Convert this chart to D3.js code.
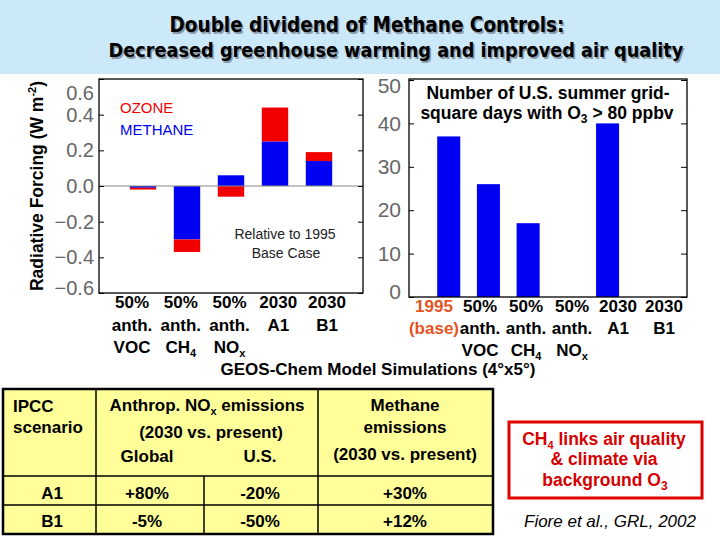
<!DOCTYPE html>
<html lang="en">
<head>
<meta charset="UTF-8">
<title>Double dividend of Methane Controls</title>
<script src="https://d3js.org/d3.v7.min.js"></script>
<style>
  html, body { margin: 0; padding: 0; background: #fff; }
  svg { display: block; font-family: 'Liberation Sans', Arial, sans-serif; }
</style>
</head>
<body>
<div id="chart"></div>
<script>
// ---- data ----
var rfCats = ["50% anth. VOC", "50% anth. CH4", "50% anth. NOx", "2030 A1", "2030 B1"];
var methaneRF = [-0.01, -0.30, 0.06, 0.25, 0.14];
var ozoneRF = [-0.01, -0.07, -0.06, 0.19, 0.05];
var rfTicks = [-0.6, -0.4, -0.2, 0.0, 0.2, 0.4, 0.6];
var rfLine1 = ["50%", "50%", "50%", "2030", "2030"];
var rfLine2 = ["anth.", "anth.", "anth.", "A1", "B1"];
var rfLine3 = ["VOC", "CH_{4}", "NO_{x}", "", ""];

var o3Cats = ["1995 (base)", "50% anth. VOC", "50% anth. CH4", "50% anth. NOx", "2030 A1", "2030 B1"];
var o3Days = [37, 26, 17, 0, 40, 0];
var o3Ticks = [0, 10, 20, 30, 40, 50];
var o3Line1 = ["1995", "50%", "50%", "50%", "2030", "2030"];
var o3Line2 = ["(base)", "anth.", "anth.", "anth.", "A1", "B1"];
var o3Line3 = ["", "VOC", "CH_{4}", "NO_{x}", "", ""];

var scenarios = ["A1", "B1"];
var noxGlobal = ["+80%", "-5%"];
var noxUS = ["-20%", "-50%"];
var ch4Emis = ["+30%", "+12%"];

var RED = "#f20000", BLUE = "#0000f2";

var svg = d3.select("#chart").append("svg")
  .attr("width", 720).attr("height", 540);

// text with _{sub} and ^{sup} pieces
function rich(t, s, small) {
  var cur = 0, last = 0, m, re = /([_^])\{([^}]*)\}/g;
  function put(str, off, size) {
    if (!str) return;
    var ts = t.append("tspan").text(str).attr("dy", off - cur);
    if (size) ts.attr("font-size", size);
    cur = off;
  }
  while ((m = re.exec(s))) {
    put(s.slice(last, m.index), 0);
    put(m[2], m[1] === "_" ? 4 : -7, small);
    last = re.lastIndex;
  }
  put(s.slice(last), 0);
  return t;
}

// title band
svg.append("rect").attr("x", 0).attr("y", 0).attr("width", 720).attr("height", 74).attr("fill", "#cce9fa");
function titleLine(str, cx, y, target) {
  [["#8a9aa6", 1.5], ["#000", 0]].forEach(function(p) {
    var t = svg.append("text").attr("x", cx + p[1]).attr("y", y + p[1])
      .attr("text-anchor", "middle").attr("font-weight", "bold")
      .style("font-family", "'DejaVu Sans Condensed', 'DejaVu Sans', sans-serif")
      .style("font-stretch", "condensed")
      .attr("font-size", 20).attr("fill", p[0]).text(str);
    var len = t.node().getComputedTextLength();
    t.attr("font-size", 20 * target / len);
  });
}
titleLine("Double dividend of Methane Controls:", 367, 32, 395);
titleLine("Decreased greenhouse warming and improved air quality", 396, 57, 575);

// ---------- left panel: radiative forcing ----------
var L = { l: 99, r: 363, t: 79, b: 293 };
var xL = d3.scaleLinear().domain([0, rfCats.length + 1]).range([L.l, L.r]);
var yL = d3.scaleLinear().domain([-0.6, 0.6]).range([L.b, L.t]);
var bwL = (xL(1) - xL(0)) * 0.6;

var rfRows = rfCats.map(function(c, i) { return { cat: c, i: i, methane: methaneRF[i], ozone: ozoneRF[i] }; });
var stack = d3.stack().keys(["methane", "ozone"]).offset(d3.stackOffsetDiverging);
var layers = stack(rfRows);
var colors = { methane: BLUE, ozone: RED };

svg.append("g").selectAll("g").data(layers).join("g")
  .attr("fill", function(d) { return colors[d.key]; })
  .selectAll("rect").data(function(d) { return d; }).join("rect")
  .attr("x", function(d) { return xL(d.data.i + 1) - bwL / 2; })
  .attr("width", bwL)
  .attr("y", function(d) { return yL(Math.max(d[0], d[1])); })
  .attr("height", function(d) { return Math.abs(yL(d[0]) - yL(d[1])); });

svg.append("line").attr("x1", L.l).attr("x2", L.r).attr("y1", yL(0)).attr("y2", yL(0))
  .attr("stroke", "#888").attr("stroke-width", 1);

svg.append("g").attr("transform", "translate(" + L.l + ",0)")
  .call(d3.axisLeft(yL).tickValues(rfTicks).tickFormat(d3.format(".1f")).tickSizeInner(-5).tickSizeOuter(0).tickPadding(5))
  .call(function(g) {
    g.select(".domain").remove();
    g.selectAll("text").attr("font-size", 20).attr("fill", "#666").attr("font-family", "'Liberation Sans', Arial, sans-serif");
    g.selectAll(".tick").filter(function(d) { return d === 0.6; }).select("text").attr("dy", "1.0em");
    g.selectAll(".tick").filter(function(d) { return d === -0.6; }).select("text").attr("dy", "0.05em");
  });
svg.append("g").attr("transform", "translate(" + L.r + ",0)")
  .call(d3.axisRight(yL).tickValues(rfTicks).tickFormat("").tickSizeInner(-5).tickSizeOuter(0))
  .call(function(g) { g.select(".domain").remove(); });

svg.append("rect").attr("x", L.l).attr("y", L.t).attr("width", L.r - L.l).attr("height", L.b - L.t)
  .attr("fill", "none").attr("stroke", "#000").attr("stroke-width", 1.3);

svg.append("text").attr("x", 120).attr("y", 113).attr("font-size", 15).attr("fill", RED).text("OZONE");
svg.append("text").attr("x", 120).attr("y", 135).attr("font-size", 15).attr("fill", BLUE).text("METHANE");
svg.append("text").attr("x", 285).attr("y", 239).attr("text-anchor", "middle").attr("font-size", 14).attr("fill", "#222").text("Relative to 1995");
svg.append("text").attr("x", 286).attr("y", 258).attr("text-anchor", "middle").attr("font-size", 14).attr("fill", "#222").text("Base Case");

var yTitle = svg.append("text").attr("transform", "translate(43,186) rotate(-90)")
  .attr("text-anchor", "middle").attr("font-weight", "bold").attr("font-size", 17.5).attr("fill", "#000");
rich(yTitle, "Radiative Forcing (W m^{-2})", 11);

// category labels under left panel
var lblL = d3.scalePoint().domain(rfCats).range([132, 327]);
[[rfLine1, 308], [rfLine2, 331], [rfLine3, 353]].forEach(function(row) {
  svg.append("g").selectAll("text").data(rfCats).join("text")
    .attr("x", function(d) { return lblL(d); }).attr("y", row[1])
    .attr("text-anchor", "middle").attr("font-weight", "bold").attr("font-size", 17)
    .each(function(d, i) { rich(d3.select(this), row[0][i], 11); });
});

// ---------- right panel: high-ozone days ----------
var R = { l: 409, r: 687, t: 79, b: 297 };
var xR = d3.scaleLinear().domain([0, o3Cats.length + 1]).range([R.l, R.r]);
var yR = d3.scaleLinear().domain([0, 50]).range([R.b, R.t + 1]);
var bwR = (xR(1) - xR(0)) * 0.58;

svg.append("g").attr("fill", BLUE).selectAll("rect").data(o3Days).join("rect")
  .attr("x", function(d, i) { return xR(i + 1) - bwR / 2; })
  .attr("width", bwR)
  .attr("y", function(d) { return yR(d); })
  .attr("height", function(d) { return yR(0) - yR(d); });

svg.append("g").attr("transform", "translate(" + R.l + ",0)")
  .call(d3.axisLeft(yR).tickValues(o3Ticks).tickSizeInner(-5).tickSizeOuter(0).tickPadding(8))
  .call(function(g) {
    g.select(".domain").remove();
    g.selectAll("text").attr("font-size", 21).attr("fill", "#666").attr("font-family", "'Liberation Sans', Arial, sans-serif");
    g.selectAll(".tick").filter(function(d) { return d === 50; }).select("text").attr("dy", "0.6em");
    g.selectAll(".tick").filter(function(d) { return d === 0; }).select("text").attr("dy", "0.05em");
  });
svg.append("g").attr("transform", "translate(" + R.r + ",0)")
  .call(d3.axisRight(yR).tickValues(o3Ticks).tickFormat("").tickSizeInner(-6).tickSizeOuter(0))
  .call(function(g) { g.select(".domain").remove(); });

svg.append("rect").attr("x", R.l).attr("y", R.t).attr("width", R.r - R.l).attr("height", R.b - R.t)
  .attr("fill", "none").attr("stroke", "#000").attr("stroke-width", 1.3);

svg.append("text").attr("x", 548).attr("y", 99).attr("text-anchor", "middle")
  .attr("font-weight", "bold").attr("font-size", 17.5).text("Number of U.S. summer grid-");
rich(svg.append("text").attr("x", 547).attr("y", 119).attr("text-anchor", "middle")
  .attr("font-weight", "bold").attr("font-size", 17.5), "square days with O_{3} > 80 ppbv", 12);

var lblR = d3.scalePoint().domain(o3Cats).range([434, 664]);
[[o3Line1, 312], [o3Line2, 334], [o3Line3, 356]].forEach(function(row) {
  svg.append("g").selectAll("text").data(o3Cats).join("text")
    .attr("x", function(d) { return lblR(d); }).attr("y", row[1])
    .attr("text-anchor", "middle").attr("font-weight", "bold").attr("font-size", 17)
    .attr("fill", function(d, i) { return i === 0 ? "#e5531f" : "#000"; })
    .each(function(d, i) { rich(d3.select(this), row[0][i], 11); });
});

svg.append("text").attr("x", 378).attr("y", 375).attr("text-anchor", "middle")
  .attr("font-weight", "bold").attr("font-size", 17).text("GEOS-Chem Model Simulations (4°x5°)");

// ---------- emissions table ----------
var colX = [3, 96, 204, 318, 493];
var rowY = [389, 476, 505, 534];
var tbl = svg.append("g").attr("font-weight", "bold").attr("font-size", 17);
tbl.append("rect").attr("x", colX[0]).attr("y", rowY[0]).attr("width", colX[4] - colX[0]).attr("height", rowY[3] - rowY[0])
  .attr("fill", "#ffff99").attr("stroke", "#000").attr("stroke-width", 2.5);
tbl.append("line").attr("x1", colX[0]).attr("x2", colX[4]).attr("y1", rowY[1]).attr("y2", rowY[1]).attr("stroke", "#000").attr("stroke-width", 1.5);
tbl.append("line").attr("x1", colX[0]).attr("x2", colX[4]).attr("y1", rowY[2]).attr("y2", rowY[2]).attr("stroke", "#000").attr("stroke-width", 1.5);
[colX[1], colX[3]].forEach(function(x) {
  tbl.append("line").attr("x1", x).attr("x2", x).attr("y1", rowY[0]).attr("y2", rowY[3]).attr("stroke", "#000").attr("stroke-width", 1.5);
});
tbl.append("line").attr("x1", colX[2]).attr("x2", colX[2]).attr("y1", rowY[1]).attr("y2", rowY[3]).attr("stroke", "#000").attr("stroke-width", 1.5);

function cell(x, y, s, anchor) {
  return rich(tbl.append("text").attr("x", x).attr("y", y).attr("text-anchor", anchor || "middle"), s, 11);
}
cell(13, 412, "IPCC", "start");
cell(13, 433, "scenario", "start");
cell(207, 411, "Anthrop. NO_{x} emissions");
cell(211, 438, "(2030 vs. present)");
cell(147, 462, "Global");
cell(260, 462, "U.S.");
cell(405, 411, "Methane");
cell(405, 433, "emissions");
cell(405, 460, "(2030 vs. present)");
var colC = [52, 147, 260, 405];
scenarios.forEach(function(s, i) {
  var y = [499, 527][i];
  cell(colC[0], y, s);
  cell(colC[1], y, noxGlobal[i]);
  cell(colC[2], y, noxUS[i]);
  cell(colC[3], y, ch4Emis[i]);
});

// ---------- note box ----------
svg.append("rect").attr("x", 509).attr("y", 422).attr("width", 193).attr("height", 76)
  .attr("fill", "#fff").attr("stroke", "#e00000").attr("stroke-width", 3);
var note = svg.append("g").attr("font-weight", "bold").attr("font-size", 17.5).attr("fill", "#d60000").attr("text-anchor", "middle");
rich(note.append("text").attr("x", 604).attr("y", 445), "CH_{4} links air quality", 11);
note.append("text").attr("x", 604).attr("y", 465).text("& climate via");
rich(note.append("text").attr("x", 605).attr("y", 486), "background O_{3}", 12);

svg.append("text").attr("x", 610).attr("y", 527).attr("text-anchor", "middle")
  .attr("font-style", "italic").attr("font-size", 17).text("Fiore et al., GRL, 2002");
</script>
</body>
</html>
